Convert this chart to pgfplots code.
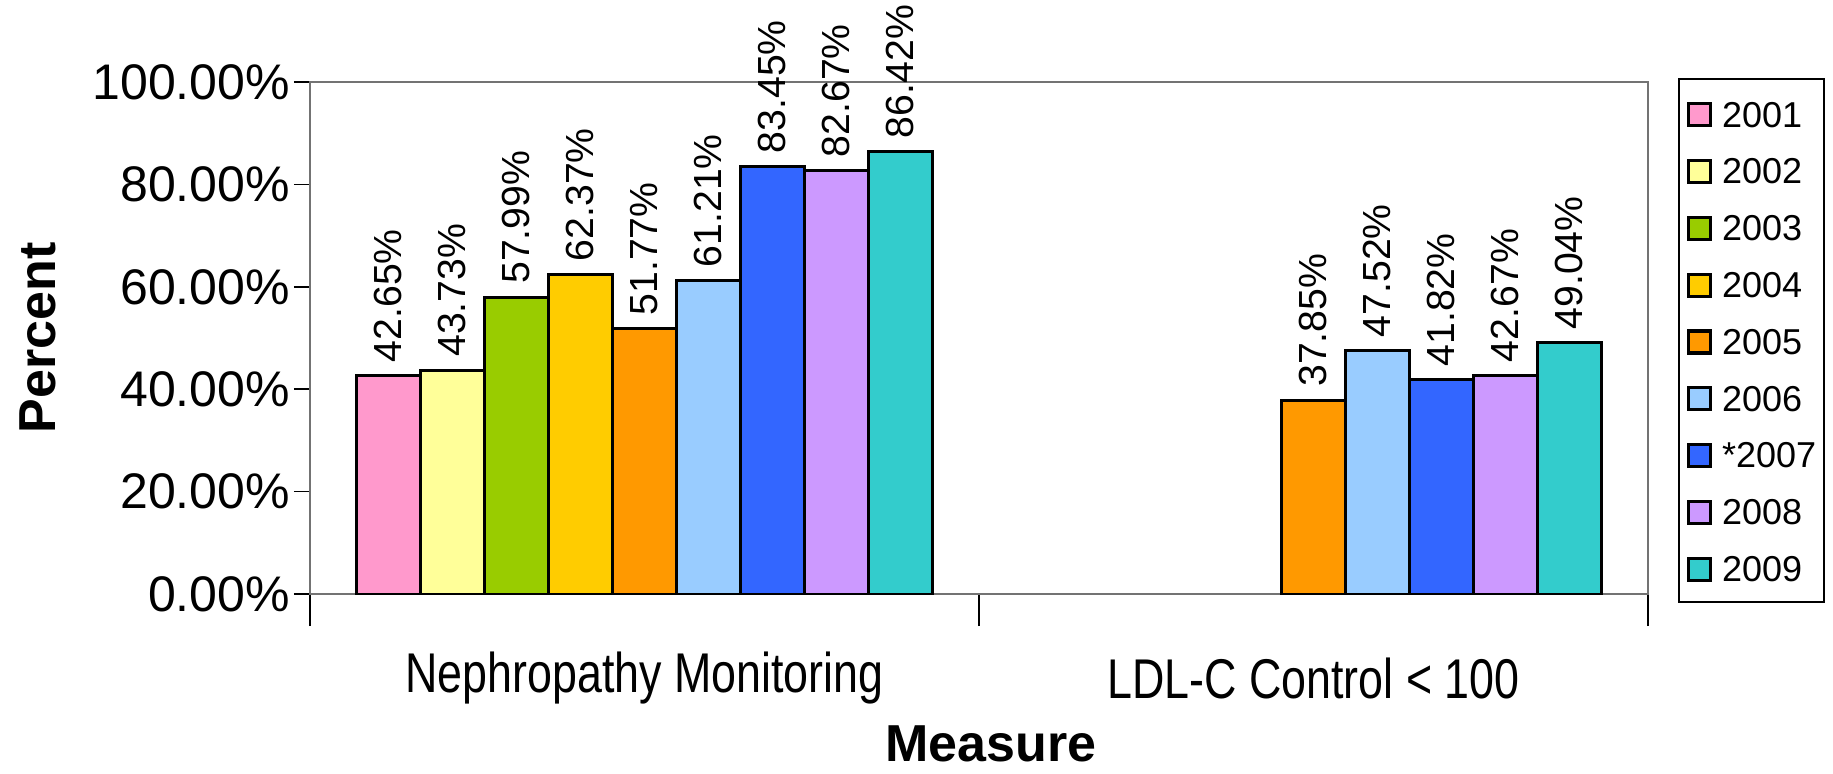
\documentclass[border=0pt]{standalone}
\usepackage{pgfplots}
\pgfplotsset{compat=1.18}
\usepackage{fontspec}
\setmainfont{Liberation Sans}

\definecolor{c2001}{HTML}{FF99CC}
\definecolor{c2002}{HTML}{FFFF99}
\definecolor{c2003}{HTML}{99CC00}
\definecolor{c2004}{HTML}{FFCC00}
\definecolor{c2005}{HTML}{FF9900}
\definecolor{c2006}{HTML}{99CCFF}
\definecolor{c2007}{HTML}{3366FF}
\definecolor{c2008}{HTML}{CC99FF}
\definecolor{c2009}{HTML}{33CCCC}

\begin{document}
\begin{tikzpicture}
\begin{axis}[
    name=ax,
    scale only axis,
    width=334.5pt, height=128pt,
    ybar, bar width=16pt,
    xmin=-0.5, xmax=1.5,
    ymin=0, ymax=100,
    axis line style={draw=black!55, line width=0.5pt},
    tick align=outside,
    xtick pos=bottom, ytick pos=left,
    tick style={black, line width=0.4pt},
    major tick length=4pt,
    ytick={0,20,40,60,80,100},
    yticklabels={0.00\%,20.00\%,40.00\%,60.00\%,80.00\%,100.00\%},
    yticklabel style={font=\fontsize{12.5}{14}\selectfont, xshift=2.5pt},
    xtick={0,1},
    xticklabels={\scalebox{0.8}[1]{Nephropathy Monitoring}, \scalebox{0.8}[1]{LDL-C Control < 100}},
    major x tick style={draw=none},
    minor xtick={-0.5,0.5,1.5},
    minor tick length=8pt,
    xticklabel style={font=\fontsize{14}{16}\selectfont, anchor=center, yshift=-17pt},
    every axis y label/.style={at={(rel axis cs:0,0.5)}, anchor=center, xshift=-68pt, rotate=90},
    every axis x label/.style={at={(rel axis cs:0.5,0)}, anchor=center, xshift=3pt, yshift=-37.5pt},
    ylabel={\fontsize{13}{15}\selectfont\bfseries Percent},
    xlabel={\fontsize{13}{15}\selectfont\bfseries Measure},
    every axis plot/.append style={draw=black, line width=0.75pt},
    point meta=explicit symbolic,
    nodes near coords={\pgfplotspointmeta},
    every node near coord/.append style={rotate=90, anchor=west, inner sep=3pt,
        font=\fontsize{9.8}{11}\selectfont, black},
    legend cell align=left,
    legend image code/.code={\draw[#1,draw=black,line width=0.8pt] (0pt,-3.2pt) rectangle (5.5pt,2.3pt);},
    legend style={at={(rel axis cs:1,1)}, anchor=north west, xshift=7.5pt, yshift=1pt,
        draw=black, line width=0.5pt, font=\fontsize{9}{11}\selectfont,
        inner xsep=2pt, inner ysep=5pt, row sep=7.1pt,
        nodes={inner sep=0pt, text height=7pt, text depth=0pt},
        /tikz/every odd column/.append style={column sep=2.5pt}},
]
\addplot[fill=c2001, bar shift=-64pt] coordinates {(0,42.65) [42.65\%]};
\addplot[fill=c2002, bar shift=-48pt] coordinates {(0,43.73) [43.73\%]};
\addplot[fill=c2003, bar shift=-32pt] coordinates {(0,57.99) [57.99\%]};
\addplot[fill=c2004, bar shift=-16pt] coordinates {(0,62.37) [62.37\%]};
\addplot[fill=c2005, bar shift=0pt] coordinates {(0,51.77) [51.77\%] (1,37.85) [37.85\%]};
\addplot[fill=c2006, bar shift=16pt] coordinates {(0,61.21) [61.21\%] (1,47.52) [47.52\%]};
\addplot[fill=c2007, bar shift=32pt] coordinates {(0,83.45) [83.45\%] (1,41.82) [41.82\%]};
\addplot[fill=c2008, bar shift=48pt] coordinates {(0,82.67) [82.67\%] (1,42.67) [42.67\%]};
\addplot[fill=c2009, bar shift=64pt] coordinates {(0,86.42) [86.42\%] (1,49.04) [49.04\%]};
\legend{2001,2002,2003,2004,2005,2006,*2007,2008,2009}
\end{axis}
\pgfresetboundingbox
\path[use as bounding box] (ax.south west) ++(-77.5pt,-44.75pt) rectangle ++(458.25pt,193.25pt);
\end{tikzpicture}
\end{document}
